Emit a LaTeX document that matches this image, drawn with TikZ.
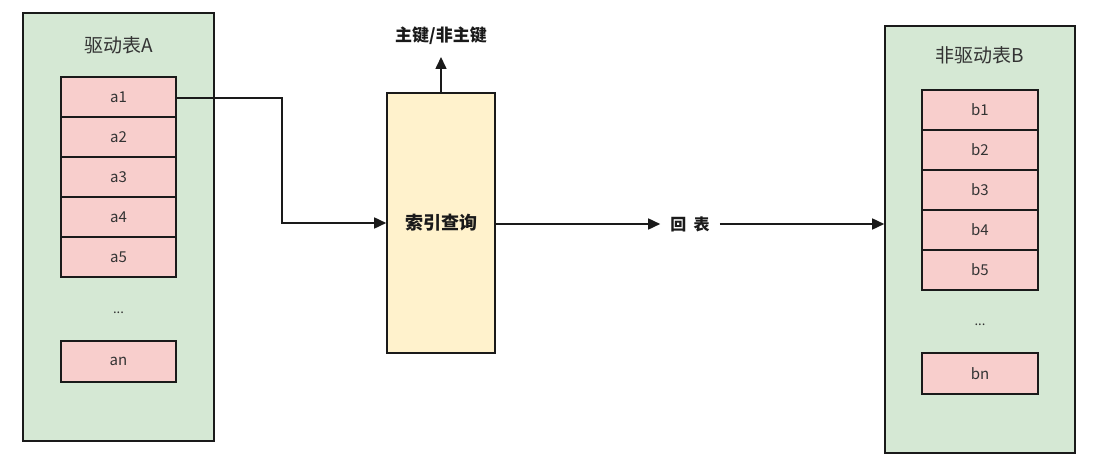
\documentclass[tikz,border=0pt]{standalone}
\usepackage{fontspec}
\setmainfont{Noto Sans CJK SC}
\usetikzlibrary{arrows.meta}
\definecolor{gfill}{HTML}{D5E8D4}
\definecolor{rfill}{HTML}{F8CECC}
\definecolor{yfill}{HTML}{FFF2CC}
\definecolor{dk}{HTML}{1A1A1A}
\definecolor{txt}{HTML}{333333}
\tikzset{
  outerbox/.style={draw=dk, fill=gfill, line width=1.6pt, minimum width=191pt, minimum height=428pt, inner sep=0pt},
  cellbox/.style={draw=dk, fill=rfill, line width=1.6pt, minimum width=115pt, minimum height=40pt, inner sep=0pt, font=\fontsize{15}{17}\selectfont, text=txt},
  titletext/.style={font=\fontsize{19}{21}\selectfont, text=txt},
  dotstext/.style={font=\fontsize{13}{14}\selectfont, text=txt},
  idxbox/.style={draw=dk, fill=yfill, line width=1.6pt, minimum width=108pt, minimum height=260pt, inner sep=0pt, font=\bfseries\fontsize{18}{21}\selectfont, text=dk},
  lbl/.style={font=\bfseries\fontsize{17}{20}\selectfont, text=dk},
  conn/.style={draw=dk, line width=1.6pt, -{Triangle[length=12pt,width=11pt]}},
}
\begin{document}
\begin{tikzpicture}[x=1pt,y=-1pt]
\useasboundingbox[fill=white] (0,0) rectangle (1105,468);
% left table
\node[outerbox] (A) at (118.5,227) {};
\node[titletext] (Atitle) at (118.5,45) {驱动表A};
\node[cellbox] (a1) at (118.5,97) {a1};
\node[cellbox] (a2) at (118.5,137) {a2};
\node[cellbox] (a3) at (118.5,177) {a3};
\node[cellbox] (a4) at (118.5,217) {a4};
\node[cellbox] (a5) at (118.5,257) {a5};
\node[dotstext] (adots) at (118.5,313) {...};
\node[cellbox, minimum height=41pt] (an) at (118.5,361.5) {an};
% right table
\node[outerbox, minimum width=190pt, minimum height=427pt] (B) at (980,239.5) {};
\node[titletext] (Btitle) at (980,55) {非驱动表B};
\node[cellbox, minimum width=116pt] (b1) at (980,110) {b1};
\node[cellbox, minimum width=116pt] (b2) at (980,150) {b2};
\node[cellbox, minimum width=116pt] (b3) at (980,190) {b3};
\node[cellbox, minimum width=116pt] (b4) at (980,230) {b4};
\node[cellbox, minimum width=116pt] (b5) at (980,270) {b5};
\node[dotstext] (bdots) at (980,325) {...};
\node[cellbox, minimum width=116pt, minimum height=41pt] (bn) at (980,373.5) {bn};
% index box
\node[idxbox] (idx) at (441,223) {索引查询};
\node[lbl] (pk) at (441,36) {主键/非主键};
\coordinate (pktip) at (441,57);
\node[lbl, font=\bfseries\fontsize{16}{19}\selectfont, inner xsep=10pt] (ht) at (690,224) {回\hspace{0.45em}表};
\coordinate (bend) at (282,98);
% connectors
\draw[conn] (a1.east |- bend) -- (bend) |- (idx.west);
\draw[conn] (idx.north) -- (pktip);
\draw[conn] (idx.east |- ht) -- (ht.west);
\draw[conn] (ht.east) -- (B.west |- ht);
\end{tikzpicture}
\end{document}
